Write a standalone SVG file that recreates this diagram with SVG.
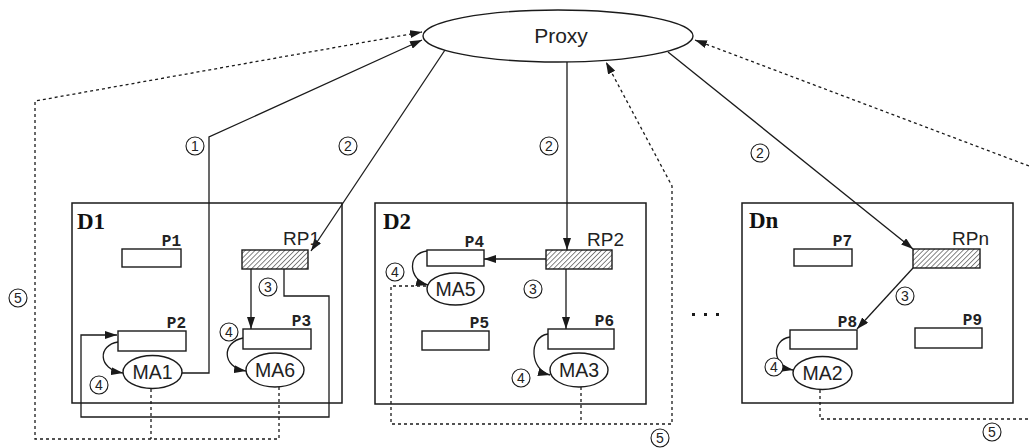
<svg xmlns="http://www.w3.org/2000/svg" width="1029" height="448" viewBox="0 0 1029 448">
  <style>
    .box { fill: #fff; stroke: #1a1a1a; stroke-width: 1.4; }
    .dom { fill: none; stroke: #1a1a1a; stroke-width: 1.5; }
    .rp { fill: url(#hatch); stroke: #1a1a1a; stroke-width: 1.4; }
    .ell { fill: #fff; stroke: #1a1a1a; stroke-width: 1.4; }
    .ln { fill: none; stroke: #1a1a1a; stroke-width: 1.3; }
    .dash { fill: none; stroke: #1a1a1a; stroke-width: 1.3; stroke-dasharray: 3 3; }
    .sans { font-family: "Liberation Sans", Arial, sans-serif; fill: #222; }
    .mono { font-family: "Liberation Mono", "Courier New", monospace; font-weight: bold; font-size: 16px; fill: #222; }
    .dname { font-family: "Liberation Serif", "Times New Roman", serif; font-weight: bold; font-size: 23px; fill: #111; }
    .step circle { fill: #fff; stroke: #1a1a1a; stroke-width: 1.1; }
    .step text { font-family: "Liberation Sans", Arial, sans-serif; font-size: 14px; fill: #222; text-anchor: middle; }
  </style>
  <defs>
    <pattern id="hatch" patternUnits="userSpaceOnUse" width="3.5" height="3.5" patternTransform="rotate(45)">
      <rect width="3.5" height="3.5" fill="#fff"/>
      <line x1="0" y1="0" x2="0" y2="3.5" stroke="#444" stroke-width="1.3"/>
    </pattern>
    <marker id="arrow" viewBox="0 0 12 8" refX="12" refY="4" markerWidth="12" markerHeight="8" markerUnits="userSpaceOnUse" orient="auto">
      <path d="M0,0 L12,4 L0,8 z" fill="#1a1a1a"/>
    </marker>
  </defs>

  <!-- Domains -->
  <g id="d1"><rect class="dom" x="72" y="203" width="270" height="200"/><text class="dname" x="77" y="229">D1</text></g>
  <g id="d2"><rect class="dom" x="375" y="203" width="271" height="201"/><text class="dname" x="383" y="229">D2</text></g>
  <g id="dn"><rect class="dom" x="742" y="203" width="271" height="200"/><text class="dname" x="749" y="228">Dn</text></g>

  <!-- Connectors -->
  <g id="connectors">
    <!-- step 1: MA1 to Proxy -->
    <polyline class="ln" points="182,373 209,373 209,137 422,40" marker-end="url(#arrow)"/>
    <!-- step 2: Proxy to each RP -->
    <line class="ln" x1="445" y1="50" x2="311" y2="251" marker-end="url(#arrow)"/>
    <line class="ln" x1="567" y1="62" x2="567" y2="250" marker-end="url(#arrow)"/>
    <line class="ln" x1="668" y1="52" x2="913" y2="249" marker-end="url(#arrow)"/>
    <!-- step 3: RP to local places -->
    <line class="ln" x1="251" y1="269" x2="251" y2="329" marker-end="url(#arrow)"/>
    <polyline class="ln" points="284,269 284,296 329,296 329,417 81,417 81,335 117,335" marker-end="url(#arrow)"/>
    <line class="ln" x1="546" y1="259" x2="484" y2="259" marker-end="url(#arrow)"/>
    <line class="ln" x1="566" y1="269" x2="566" y2="329" marker-end="url(#arrow)"/>
    <line class="ln" x1="913" y1="268" x2="857" y2="329" marker-end="url(#arrow)"/>
    <!-- step 4: place to mobile agent -->
    <path class="ln" d="M118,342 C98,345 97,369 123,373" marker-end="url(#arrow)"/>
    <path class="ln" d="M243,338 C222,342 221,367 246,371" marker-end="url(#arrow)"/>
    <path class="ln" d="M427,251 C407,253 408,280 428,285" marker-end="url(#arrow)"/>
    <path class="ln" d="M548,334 C528,337 530,370 550,375" marker-end="url(#arrow)"/>
    <path class="ln" d="M790,337 C771,340 772,366 793,370" marker-end="url(#arrow)"/>
    <!-- step 5: results back to Proxy -->
    <polyline class="dash" points="151,389 151,439"/>
    <polyline class="dash" points="279,387 279,439 35,439 35,101 422,32" marker-end="url(#arrow)"/>
    <polyline class="dash" points="581,387 581,424"/>
    <polyline class="dash" points="426,286 391,286 391,424 672,424 672,186 606,62" marker-end="url(#arrow)"/>
    <polyline class="dash" points="820,390 820,419 1029,419"/>
    <line class="dash" x1="1029" y1="166" x2="695" y2="40" marker-end="url(#arrow)"/>
  </g>

  <!-- Proxy -->
  <g id="proxy">
    <ellipse class="ell" cx="558" cy="36" rx="135" ry="26"/>
    <text class="sans" x="561" y="43" font-size="21" text-anchor="middle">Proxy</text>
  </g>

  <!-- Places -->
  <g id="p1"><rect class="box" x="122" y="249" width="59" height="18"/><text class="mono" x="181" y="246" text-anchor="end">P1</text></g>
  <g id="p2"><rect class="box" x="118" y="331" width="68" height="20"/><text class="mono" x="186" y="328" text-anchor="end">P2</text></g>
  <g id="p3"><rect class="box" x="243" y="329" width="68" height="20"/><text class="mono" x="311" y="326" text-anchor="end">P3</text></g>
  <g id="p4"><rect class="box" x="427" y="250" width="57" height="16"/><text class="mono" x="484" y="247" text-anchor="end">P4</text></g>
  <g id="p5"><rect class="box" x="422" y="331" width="67" height="19"/><text class="mono" x="489" y="328" text-anchor="end">P5</text></g>
  <g id="p6"><rect class="box" x="548" y="329" width="66" height="20"/><text class="mono" x="614" y="326" text-anchor="end">P6</text></g>
  <g id="p7"><rect class="box" x="794" y="249" width="58" height="17"/><text class="mono" x="852" y="246" text-anchor="end">P7</text></g>
  <g id="p8"><rect class="box" x="790" y="330" width="67" height="19"/><text class="mono" x="857" y="327" text-anchor="end">P8</text></g>
  <g id="p9"><rect class="box" x="915" y="328" width="67" height="20"/><text class="mono" x="982" y="325" text-anchor="end">P9</text></g>

  <!-- Resource places -->
  <g id="rp1"><rect class="rp" x="242" y="250" width="66" height="19"/><text class="sans" x="283" y="245" font-size="19">RP1</text></g>
  <g id="rp2"><rect class="rp" x="546" y="250" width="66" height="19"/><text class="sans" x="587" y="246" font-size="19">RP2</text></g>
  <g id="rpn"><rect class="rp" x="913" y="249" width="67" height="19"/><text class="sans" x="952" y="245" font-size="19">RPn</text></g>

  <!-- Mobile agents -->
  <g id="ma1"><ellipse class="ell" cx="152.5" cy="372" rx="29.5" ry="16.5"/><text class="sans" x="152.5" y="379" font-size="19.5" text-anchor="middle">MA1</text></g>
  <g id="ma6"><ellipse class="ell" cx="275" cy="370" rx="29" ry="17"/><text class="sans" x="275" y="377" font-size="19.5" text-anchor="middle">MA6</text></g>
  <g id="ma5"><ellipse class="ell" cx="455.5" cy="289" rx="28.5" ry="16"/><text class="sans" x="455.5" y="296" font-size="19.5" text-anchor="middle">MA5</text></g>
  <g id="ma3"><ellipse class="ell" cx="579" cy="370" rx="29" ry="17"/><text class="sans" x="579" y="377" font-size="19.5" text-anchor="middle">MA3</text></g>
  <g id="ma2"><ellipse class="ell" cx="822.5" cy="373" rx="29.5" ry="16.5"/><text class="sans" x="822.5" y="380" font-size="19.5" text-anchor="middle">MA2</text></g>

  <!-- Step numbers -->
  <g id="steps" class="step">
    <g><circle cx="195" cy="146" r="9"/><text x="195" y="151">1</text></g>
    <g><circle cx="348" cy="146" r="9"/><text x="348" y="151">2</text></g>
    <g><circle cx="549" cy="146" r="9"/><text x="549" y="151">2</text></g>
    <g><circle cx="760" cy="153" r="9"/><text x="760" y="158">2</text></g>
    <g><circle cx="268" cy="287" r="9"/><text x="268" y="292">3</text></g>
    <g><circle cx="533" cy="289" r="9"/><text x="533" y="294">3</text></g>
    <g><circle cx="905" cy="296" r="9"/><text x="905" y="301">3</text></g>
    <g><circle cx="99" cy="385" r="9"/><text x="99" y="390">4</text></g>
    <g><circle cx="229" cy="332" r="9"/><text x="229" y="337">4</text></g>
    <g><circle cx="395" cy="272" r="9"/><text x="395" y="277">4</text></g>
    <g><circle cx="521" cy="378" r="9"/><text x="521" y="383">4</text></g>
    <g><circle cx="774" cy="367" r="9"/><text x="774" y="372">4</text></g>
    <g><circle cx="18" cy="298" r="9"/><text x="18" y="303">5</text></g>
    <g><circle cx="660" cy="438" r="9"/><text x="660" y="443">5</text></g>
    <g><circle cx="992" cy="432" r="9"/><text x="992" y="437">5</text></g>
  </g>

  <!-- Ellipsis between domains -->
  <g id="more" fill="#1a1a1a">
    <rect x="692" y="313" width="3" height="3"/>
    <rect x="704" y="313" width="3" height="3"/>
    <rect x="716" y="313" width="3" height="3"/>
  </g>
</svg>
